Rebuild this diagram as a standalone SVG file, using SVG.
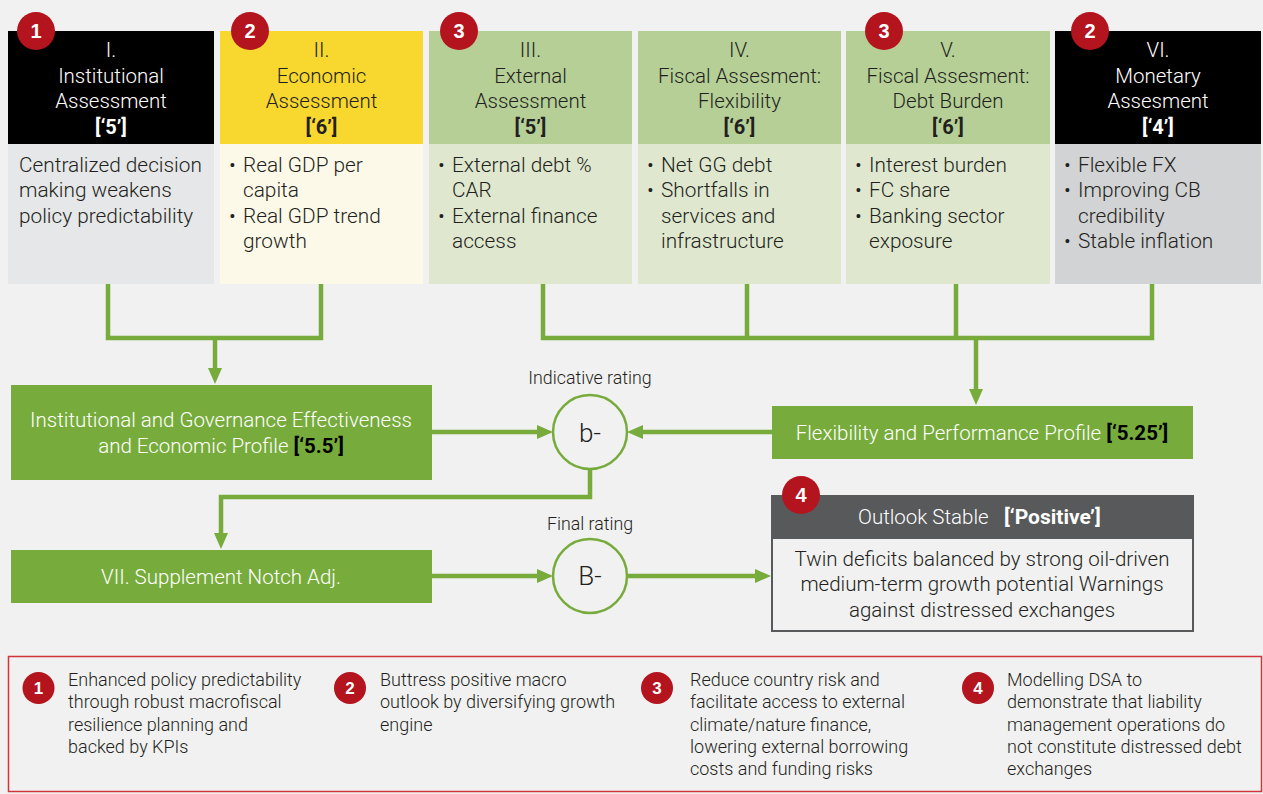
<svg xmlns="http://www.w3.org/2000/svg" width="1263" height="794" viewBox="0 0 1263 794">
  <style>
    text { font-family: Roboto, "Liberation Sans", Arial, sans-serif; font-weight: 300; }
    .hd { font-size: 20.5px; text-anchor: middle; fill: #231f20; }
    .hd.inv { fill: #ffffff; }
    .sc { font-weight: 700; font-size: 20px; }
    .bd { font-size: 20.8px; fill: #231f20; }
    .gb { fill: #77ac3c; }
    .gt { font-size: 20.5px; fill: #ffffff; text-anchor: middle; }
    .blk { fill: #000000; font-weight: 700; }
    .badge circle { fill: #b3141d; }
    .badge text { fill: #ffffff; font-family: "Liberation Sans", Arial, sans-serif; font-weight: 700; text-anchor: middle; }
    .conn { fill: none; stroke: #77ac3c; stroke-width: 4.5; }
    .rate { fill: #f1f1f1; stroke: #77ac3c; stroke-width: 2.5; }
    .rt { font-size: 26px; fill: #231f20; text-anchor: middle; }
    .cap { font-size: 17.8px; fill: #231f20; text-anchor: middle; }
    .lg { font-size: 18px; fill: #231f20; }
  </style>
  <defs>
    <marker id="arr" viewBox="0 0 16 14" markerWidth="16" markerHeight="14" refX="1" refY="7" orient="auto" markerUnits="userSpaceOnUse">
      <path d="M0,0 L16,7 L0,14 z" fill="#77ac3c"/>
    </marker>
  </defs>

  <rect width="1263" height="794" fill="#f1f1f1"/>

  <!-- I. Institutional -->
  <g id="col-institutional">
    <rect x="8" y="31" width="206" height="113" fill="#000000"/>
    <rect x="8" y="144" width="206" height="140" fill="#e6e7e8"/>
    <text class="hd inv" x="111" y="57">I.</text>
    <text class="hd inv" x="111" y="83">Institutional</text>
    <text class="hd inv" x="111" y="108">Assessment</text>
    <text class="hd inv sc" x="111" y="134">[‘5’]</text>
    <text class="bd" x="19" y="172">Centralized decision</text>
    <text class="bd" x="19" y="197">making weakens</text>
    <text class="bd" x="19" y="223">policy predictability</text>
  </g>

  <!-- II. Economic -->
  <g id="col-economic">
    <rect x="220" y="31" width="203" height="113" fill="#f8d72f"/>
    <rect x="220" y="144" width="203" height="140" fill="#fdf9e9"/>
    <text class="hd" x="321.5" y="57">II.</text>
    <text class="hd" x="321.5" y="83">Economic</text>
    <text class="hd" x="321.5" y="108">Assessment</text>
    <text class="hd sc" x="321.5" y="134">[‘6’]</text>
    <text class="bd" x="229" y="172">•</text><text class="bd" x="243" y="172">Real GDP per</text>
    <text class="bd" x="243" y="197">capita</text>
    <text class="bd" x="229" y="223">•</text><text class="bd" x="243" y="223">Real GDP trend</text>
    <text class="bd" x="243" y="248">growth</text>
  </g>

  <!-- III. External -->
  <g id="col-external">
    <rect x="429" y="31" width="203" height="113" fill="#b5cf96"/>
    <rect x="429" y="144" width="203" height="140" fill="#dfe8cf"/>
    <text class="hd" x="530.5" y="57">III.</text>
    <text class="hd" x="530.5" y="83">External</text>
    <text class="hd" x="530.5" y="108">Assessment</text>
    <text class="hd sc" x="530.5" y="134">[‘5’]</text>
    <text class="bd" x="438" y="172">•</text><text class="bd" x="452" y="172">External debt %</text>
    <text class="bd" x="452" y="197">CAR</text>
    <text class="bd" x="438" y="223">•</text><text class="bd" x="452" y="223">External finance</text>
    <text class="bd" x="452" y="248">access</text>
  </g>

  <!-- IV. Fiscal flexibility -->
  <g id="col-fiscal-flex">
    <rect x="638" y="31" width="203" height="113" fill="#b5cf96"/>
    <rect x="638" y="144" width="203" height="140" fill="#dfe8cf"/>
    <text class="hd" x="739.5" y="57">IV.</text>
    <text class="hd" x="739.5" y="83">Fiscal Assesment:</text>
    <text class="hd" x="739.5" y="108">Flexibility</text>
    <text class="hd sc" x="739.5" y="134">[‘6’]</text>
    <text class="bd" x="647" y="172">•</text><text class="bd" x="661" y="172">Net GG debt</text>
    <text class="bd" x="647" y="197">•</text><text class="bd" x="661" y="197">Shortfalls in</text>
    <text class="bd" x="661" y="223">services and</text>
    <text class="bd" x="661" y="248">infrastructure</text>
  </g>

  <!-- V. Fiscal debt burden -->
  <g id="col-fiscal-debt">
    <rect x="846" y="31" width="204" height="113" fill="#b5cf96"/>
    <rect x="846" y="144" width="204" height="140" fill="#dfe8cf"/>
    <text class="hd" x="948" y="57">V.</text>
    <text class="hd" x="948" y="83">Fiscal Assesment:</text>
    <text class="hd" x="948" y="108">Debt Burden</text>
    <text class="hd sc" x="948" y="134">[‘6’]</text>
    <text class="bd" x="855" y="172">•</text><text class="bd" x="869" y="172">Interest burden</text>
    <text class="bd" x="855" y="197">•</text><text class="bd" x="869" y="197">FC share</text>
    <text class="bd" x="855" y="223">•</text><text class="bd" x="869" y="223">Banking sector</text>
    <text class="bd" x="869" y="248">exposure</text>
  </g>

  <!-- VI. Monetary -->
  <g id="col-monetary">
    <rect x="1055" y="31" width="206" height="113" fill="#000000"/>
    <rect x="1055" y="144" width="206" height="140" fill="#d1d3d4"/>
    <text class="hd inv" x="1158" y="57">VI.</text>
    <text class="hd inv" x="1158" y="83">Monetary</text>
    <text class="hd inv" x="1158" y="108">Assesment</text>
    <text class="hd inv sc" x="1158" y="134">[‘4’]</text>
    <text class="bd" x="1064" y="172">•</text><text class="bd" x="1078" y="172">Flexible FX</text>
    <text class="bd" x="1064" y="197">•</text><text class="bd" x="1078" y="197">Improving CB</text>
    <text class="bd" x="1078" y="223">credibility</text>
    <text class="bd" x="1064" y="248">•</text><text class="bd" x="1078" y="248">Stable inflation</text>
  </g>

  <!-- connectors -->
  <g id="connectors">
    <path class="conn" d="M108,284 V338 H321 V284"/>
    <path class="conn" d="M215,338 V369" marker-end="url(#arr)"/>
    <path class="conn" d="M543,284 V338 H1152 V284 M747,284 V338 M956,284 V338"/>
    <path class="conn" d="M976,338 V390" marker-end="url(#arr)"/>
    <path class="conn" d="M432,432 H538" marker-end="url(#arr)"/>
    <path class="conn" d="M772,432 H642" marker-end="url(#arr)"/>
    <path class="conn" d="M590,469 V497 H221 V534" marker-end="url(#arr)"/>
    <path class="conn" d="M432,576 H538" marker-end="url(#arr)"/>
    <path class="conn" d="M627,576 H756" marker-end="url(#arr)"/>
  </g>

  <!-- profiles -->
  <g id="profile-institutional">
    <rect class="gb" x="11" y="385" width="421" height="95"/>
    <text class="gt" x="221" y="427">Institutional and Governance Effectiveness</text>
    <text class="gt" x="221" y="453">and Economic Profile <tspan class="blk">[‘5.5’]</tspan></text>
  </g>

  <g id="profile-flexibility">
    <rect class="gb" x="772" y="406" width="421" height="53"/>
    <text class="gt" x="982" y="440">Flexibility and Performance Profile <tspan class="blk">[‘5.25’]</tspan></text>
  </g>

  <g id="supplement-notch">
    <rect class="gb" x="11" y="550" width="421" height="53"/>
    <text class="gt" x="221" y="584">VII. Supplement Notch Adj.</text>
  </g>

  <!-- ratings -->
  <g id="indicative-rating">
    <text class="cap" x="590" y="384">Indicative rating</text>
    <circle class="rate" cx="590" cy="432" r="37"/>
    <text class="rt" x="590" y="442">b-</text>
  </g>

  <g id="final-rating">
    <text class="cap" x="590" y="530">Final rating</text>
    <circle class="rate" cx="590" cy="576" r="37"/>
    <text class="rt" x="590" y="585">B-</text>
  </g>

  <!-- outlook -->
  <g id="outlook">
    <rect x="771" y="495" width="423" height="42" fill="#58595b"/>
    <rect x="772" y="538" width="421" height="93" fill="none" stroke="#58595b" stroke-width="2"/>
    <text x="858" y="524" font-size="20.5" fill="#ffffff">Outlook Stable</text>
    <text x="1004" y="524" font-size="21" fill="#ffffff" style="font-weight:700">[‘Positive’]</text>
    <text class="gt" x="982" y="566" style="fill:#231f20">Twin deficits balanced by strong oil-driven</text>
    <text class="gt" x="982" y="591" style="fill:#231f20">medium-term growth potential Warnings</text>
    <text class="gt" x="982" y="617" style="fill:#231f20">against distressed exchanges</text>
  </g>

  <!-- priority markers on the boxes -->
  <g id="badges" class="badge">
    <circle cx="36" cy="31" r="19"/><text x="36" y="38" font-size="20">1</text>
    <circle cx="250" cy="31" r="19"/><text x="250" y="38" font-size="20">2</text>
    <circle cx="459" cy="31" r="19"/><text x="459" y="38" font-size="20">3</text>
    <circle cx="884" cy="31" r="19"/><text x="884" y="38" font-size="20">3</text>
    <circle cx="1090" cy="31" r="19"/><text x="1090" y="38" font-size="20">2</text>
    <circle cx="801" cy="495" r="19"/><text x="801" y="502" font-size="20">4</text>
  </g>

  <!-- legend -->
  <g id="legend">
    <rect x="8.5" y="656.5" width="1253" height="135" fill="none" stroke="#d0353b" stroke-width="1.5"/>
    <g class="badge">
      <circle cx="38.5" cy="688" r="16"/><text x="38.5" y="694" font-size="17">1</text>
      <circle cx="350" cy="688" r="16"/><text x="350" y="694" font-size="17">2</text>
      <circle cx="657" cy="688" r="16"/><text x="657" y="694" font-size="17">3</text>
      <circle cx="978" cy="688" r="16"/><text x="978" y="694" font-size="17">4</text>
    </g>
    <text class="lg" x="68" y="686">Enhanced policy predictability</text>
    <text class="lg" x="68" y="708">through robust macrofiscal</text>
    <text class="lg" x="68" y="731">resilience planning and</text>
    <text class="lg" x="68" y="753">backed by KPIs</text>

    <text class="lg" x="380" y="686">Buttress positive macro</text>
    <text class="lg" x="380" y="708">outlook by diversifying growth</text>
    <text class="lg" x="380" y="731">engine</text>

    <text class="lg" x="690" y="686">Reduce country risk and</text>
    <text class="lg" x="690" y="708">facilitate access to external</text>
    <text class="lg" x="690" y="731">climate/nature finance,</text>
    <text class="lg" x="690" y="753">lowering external borrowing</text>
    <text class="lg" x="690" y="775">costs and funding risks</text>

    <text class="lg" x="1007" y="686">Modelling DSA to</text>
    <text class="lg" x="1007" y="708">demonstrate that liability</text>
    <text class="lg" x="1007" y="731">management operations do</text>
    <text class="lg" x="1007" y="753">not constitute distressed debt</text>
    <text class="lg" x="1007" y="775">exchanges</text>
  </g>
</svg>
